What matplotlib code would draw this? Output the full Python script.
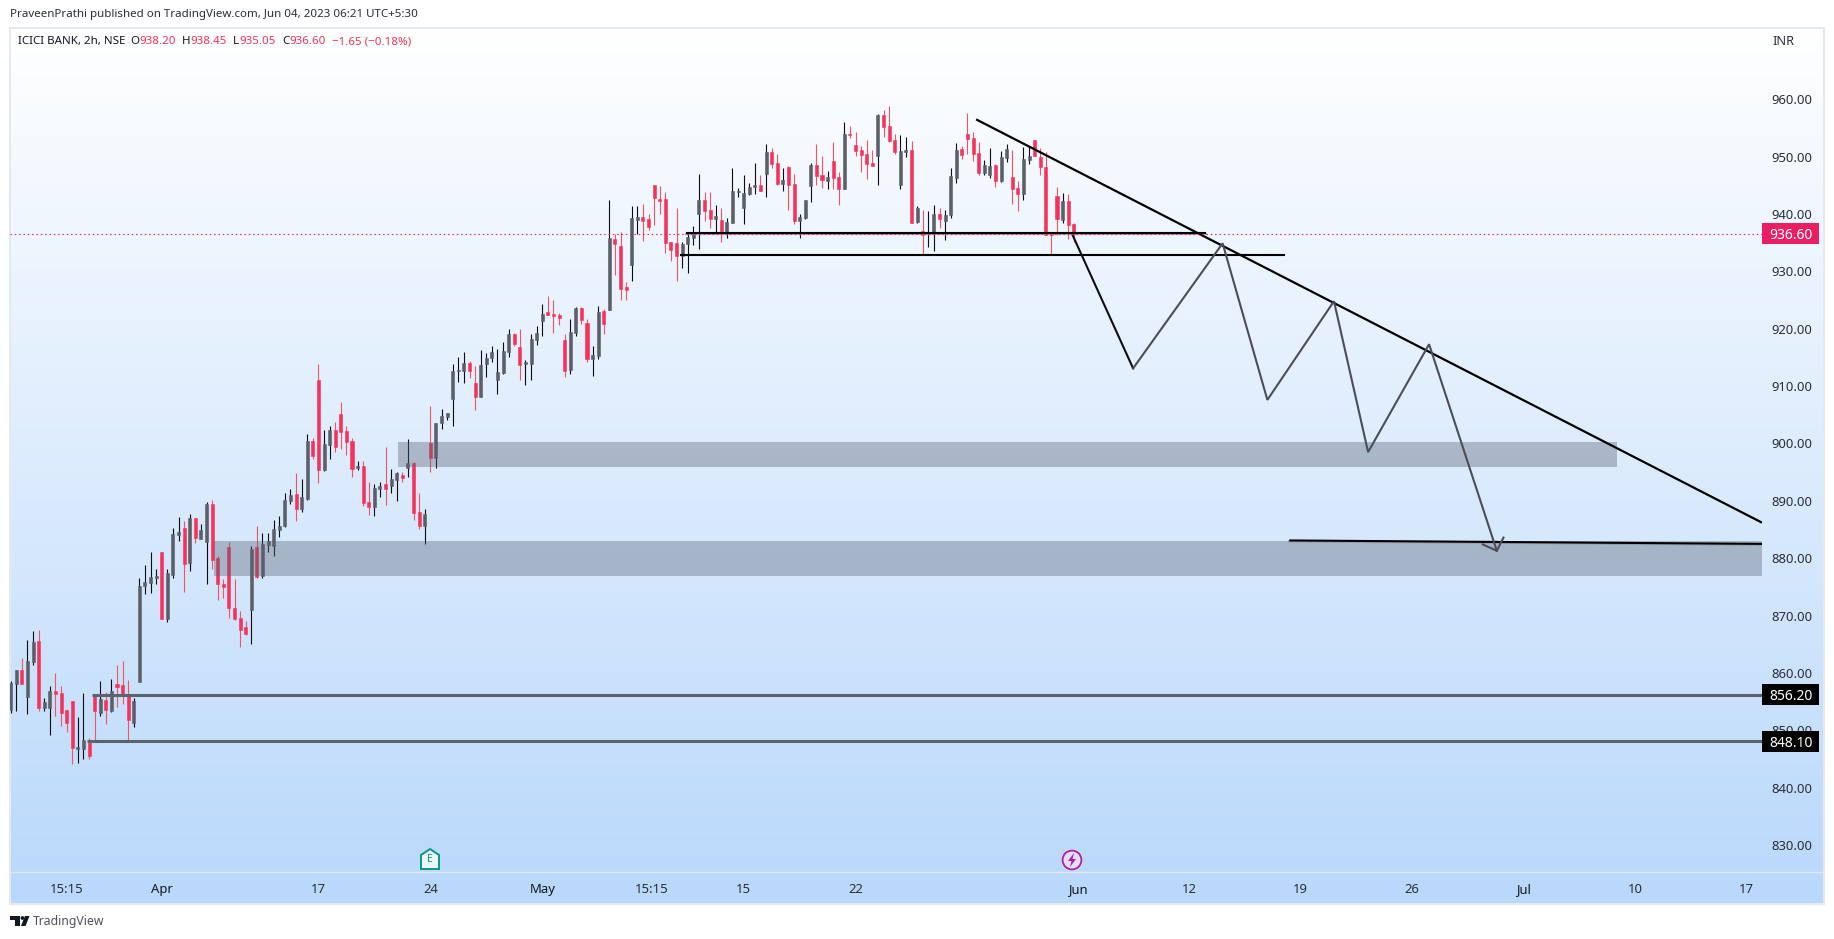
#!/usr/bin/env python
# ICICI BANK 2h candles with hand drawn trend lines, TradingView style
import numpy as np
import matplotlib
matplotlib.use('Agg')
import matplotlib.pyplot as plt
from matplotlib.colors import LinearSegmentedColormap
from matplotlib.patches import Rectangle, Polygon, Circle
from matplotlib.transforms import Affine2D, blended_transform_factory

W, H = 1834, 939

# candles
opens = [853.5,858.1,860.5,855.8,861.9,865.6,853.9,853.9,856.9,856.5,
         853.5,855.1,846.8,846.8,848.3,856.0,853.0,855.3,853.4,858.1,
         857.9,856.3,851.3,858.4,875.2,875.7,876.6,881.1,869.4,877.1,
         884.1,885.3,879.2,887.0,883.4,882.8,889.5,880.0,875.5,882.0,
         871.3,869.6,868.0,871.0,882.0,876.9,882.3,882.1,884.9,885.6,
         890.0,891.2,888.6,890.3,900.4,911.1,895.4,899.7,902.4,905.1,
         902.2,900.4,895.7,896.1,889.8,888.9,892.1,892.9,892.6,893.6,
         894.5,895.7,896.6,888.1,885.6,900.1,897.5,903.6,904.6,907.8,
         912.6,912.6,914.0,910.5,908.1,913.9,914.9,911.1,912.3,915.9,
         919.1,916.8,913.9,913.9,918.0,921.4,922.9,922.6,922.4,918.0,
         912.8,919.3,923.6,921.0,914.7,915.3,923.1,923.3,935.7,934.4,
         927.3,931.1,939.0,939.5,939.1,945.1,942.6,942.6,935.1,935.0,
         932.7,934.8,935.8,940.0,942.4,940.7,939.1,938.9,936.7,938.4,
         943.8,941.0,943.5,944.7,945.1,947.0,950.8,948.9,945.2,948.2,
         945.2,938.8,939.3,944.9,948.5,946.8,945.8,949.2,946.5,944.4,
         953.9,952.0,951.2,950.5,948.9,950.1,957.3,955.3,952.9,945.1,
         950.8,951.2,938.6,937.0,936.5,936.5,940.0,938.8,939.8,946.3,
         951.3,953.9,953.2,950.6,947.2,946.8,948.5,945.8,949.8,946.5,
         944.5,943.5,949.4,952.9,949.9,948.2,936.5,943.2,939.0,942.3,
         938.20]
highs = [858.6,860.6,862.6,865.7,867.3,867.5,855.6,857.7,860.0,857.7,
         853.5,855.1,852.3,856.5,848.7,856.0,858.6,856.7,858.9,861.4,
         862.1,858.8,855.6,876.6,878.8,881.1,878.1,881.1,878.1,885.3,
         887.2,886.5,887.7,887.0,886.0,889.8,890.2,880.4,876.4,882.8,
         876.4,870.8,869.1,882.1,885.6,884.4,884.4,886.7,887.4,891.4,
         892.1,894.9,893.8,901.7,901.0,913.9,902.4,903.1,903.8,907.2,
         903.1,901.0,897.0,897.0,893.3,892.9,893.3,899.4,895.6,895.0,
         895.0,900.8,896.8,891.4,888.6,906.5,903.6,906.0,905.3,913.9,
         915.1,915.9,914.4,913.5,916.3,915.8,917.0,916.5,917.7,920.0,
         919.3,920.0,914.6,919.1,920.5,924.3,925.7,925.0,922.7,919.1,
         921.7,923.8,923.8,921.7,917.0,924.0,923.4,942.5,936.5,936.9,
         928.2,941.4,941.4,941.8,940.0,945.1,944.9,943.8,935.1,941.1,
         935.1,936.9,937.9,947.0,943.8,943.8,941.6,941.0,939.3,948.0,
         944.5,946.8,945.4,948.9,946.8,952.2,951.5,950.5,948.0,948.4,
         947.0,940.0,942.4,948.9,952.2,950.1,947.5,952.6,947.3,956.0,
         955.3,954.3,951.9,952.9,951.2,957.4,958.1,958.8,953.9,953.8,
         953.4,952.7,941.4,940.7,940.5,941.6,941.0,940.7,948.0,952.4,
         951.9,957.6,954.3,952.6,949.4,951.5,948.7,951.0,952.2,951.2,
         945.8,951.7,951.7,952.9,951.5,950.8,936.5,944.7,943.7,943.5,
         938.45]
lows = [853.0,853.4,858.1,852.9,861.4,853.4,853.4,849.2,852.5,850.8,
        849.7,844.1,844.3,845.0,845.0,848.3,852.5,851.1,853.2,854.1,
        854.6,848.1,850.6,858.4,873.8,873.9,875.5,869.4,868.9,876.6,
        883.0,874.1,877.8,882.7,883.4,875.5,878.1,872.7,873.1,869.6,
        869.2,864.5,866.6,865.0,876.6,876.6,881.1,880.4,883.7,885.4,
        889.5,886.5,888.1,890.2,897.3,893.1,895.2,897.3,898.5,899.0,
        898.0,894.2,895.4,889.1,887.5,887.4,890.7,889.3,891.4,890.0,
        893.3,894.2,886.7,885.1,882.5,895.0,895.7,902.5,904.1,903.1,
        910.7,910.5,911.4,905.8,908.1,911.6,914.2,908.6,912.1,915.1,
        917.0,911.1,910.2,911.1,917.2,918.7,922.4,919.3,920.7,911.6,
        912.1,918.7,920.8,914.2,911.8,914.7,919.1,923.3,929.4,925.0,
        925.0,928.3,936.5,935.3,937.2,938.1,940.0,933.2,931.8,928.3,
        930.6,929.7,934.6,933.9,938.8,937.6,936.9,935.1,935.8,938.4,
        943.0,938.3,943.3,943.5,944.0,943.0,948.0,945.1,944.0,940.7,
        938.3,935.8,939.1,942.1,945.1,944.5,944.4,944.4,941.6,944.4,
        953.3,950.1,947.3,946.1,948.4,945.1,953.4,952.6,950.5,944.4,
        949.9,938.4,938.4,932.9,934.2,933.6,937.6,935.5,939.3,945.4,
        949.6,950.5,949.2,946.8,946.8,946.3,944.7,945.6,949.1,941.7,
        940.5,942.4,948.7,950.1,946.8,936.3,932.9,936.3,938.4,935.6,
        935.05]
closes = [858.2,860.5,858.1,862.1,865.4,853.9,854.9,856.9,856.3,853.0,
          851.3,846.9,847.1,848.3,845.5,853.4,855.5,853.5,856.9,857.6,
          856.3,851.8,855.1,875.2,875.9,876.7,876.9,869.4,877.4,884.2,
          884.6,879.0,887.0,883.5,884.9,889.5,879.7,875.5,875.0,871.3,
          869.4,867.5,866.8,881.6,876.7,882.5,883.0,885.1,885.6,890.2,
          891.0,888.6,890.7,900.4,897.8,895.4,899.9,902.4,899.4,902.0,
          900.3,895.6,896.1,889.6,888.9,892.2,892.6,892.1,893.8,894.9,
          894.0,896.6,887.9,885.6,887.7,897.5,903.6,904.8,905.3,912.6,
          912.8,914.0,912.6,908.1,913.7,914.9,915.9,912.5,916.1,919.1,
          917.3,913.7,914.2,918.2,919.3,922.6,922.4,922.2,921.9,912.6,
          919.4,923.6,921.5,914.7,915.4,922.9,920.8,935.8,934.8,926.9,
          926.8,939.3,939.5,938.8,937.7,942.8,942.3,935.0,933.7,932.7,
          934.8,936.0,936.5,942.4,940.5,939.1,939.7,937.0,938.6,944.0,
          944.0,943.7,944.7,945.1,944.0,950.8,948.7,945.2,945.9,945.1,
          938.8,939.5,942.4,948.5,946.6,945.9,946.5,946.3,944.4,953.9,
          953.8,951.0,950.3,948.7,948.4,957.3,955.2,952.7,950.8,951.0,
          951.2,938.4,941.0,936.3,936.7,940.0,939.1,939.8,946.6,951.2,
          950.3,953.1,950.5,947.2,948.5,948.4,945.8,949.9,951.3,944.4,
          943.5,949.6,950.1,950.1,948.2,936.3,936.3,939.1,942.3,938.1,
          936.60]

# axis labels
price_ticks = [830,840,850,860,870,880,890,900,910,920,930,940,950,960]
time_ticks = [10,27,55,75,95,114.5,131,151,190.8,210.6,230.4,250.5,270.4,290.4,310.2]
time_labels = ['15:15','Apr','17','24','May','15:15','15','22','Jun','12','19','26','Jul','10','17']
bold_labels = ['Apr','May','Jun','Jul']

# drawings on the chart, x in bars, y in price
trend_x = [172.55,313.0]
trend_y = [956.5,886.2]
top_x = [120.7,213.7]
top_y = [936.7,936.7]
neck_x = [119.6,227.7]
neck_y = [932.9,932.9]
target_x = [228.5,313.0]
target_y = [883.1,882.5]
zig_x = [189.8,200.6,216.6,224.6,236.5,242.6,253.5,265.6]
zig_y = [936.3,913.1,934.9,907.6,924.8,898.5,917.3,881.3]
head_x = [263.1,265.6,266.8]
head_y = [882.4,881.3,883.6]
zones = [(69.2,287.0,895.9,900.3),(36.3,313.0,876.9,883.0)]
levels = [(14.5,856.2),(13.7,848.1)]
last_price = 936.60

RED = '#f6325a'
RED_WICK = '#f7525f'
DARK = '#5b5f67'
DARK_WICK = '#0c0c10'
LINE = '#5a6470'
INK = '#131722'
AXIS_TXT = '#2a2e39'

plt.rcParams['font.family'] = ['Noto Sans', 'DejaVu Sans']

fig = plt.figure(figsize=(W/100, H/100), dpi=100, facecolor='white')
# pixel coordinates of the screenshot, y down
px = Affine2D().scale(1/W, -1/H).translate(0, 1) + fig.transFigure

def box(left, top, right, bottom):
    return [left/W, 1-bottom/H, (right-left)/W, (bottom-top)/H]

# panel with the blue gradient
panel = fig.add_axes(box(10, 28, 1824, 904), zorder=-1)
grad = LinearSegmentedColormap.from_list('bg', ['#ffffff', '#b9d8fb'])
panel.imshow(np.linspace(0, 1, 256).reshape(-1, 1), aspect='auto', cmap=grad)
panel.set_xticks([])
panel.set_yticks([])
for s in panel.spines.values():
    s.set_color('#e4e9f1')
    s.set_linewidth(1.4)

# price pane
ax = fig.add_axes(box(10, 28, 1762, 872))
ax.patch.set_alpha(0)
ax.set_xlim(-0.125, 313.0)
ax.set_ylim(825.3, 972.43)
for s in ax.spines.values():
    s.set_visible(False)
ax.yaxis.tick_right()
ax.set_yticks(price_ticks)
ax.set_yticklabels(['%.2f' % p for p in price_ticks], fontsize=9.4, color=AXIS_TXT)
ax.tick_params(axis='y', length=0, pad=6.6)
ax.set_xticks(time_ticks)
ax.set_xticklabels(time_labels, fontsize=9.4, color=AXIS_TXT)
ax.tick_params(axis='x', length=0, pad=7.6)
for t in ax.get_xticklabels():
    if t.get_text() in bold_labels:
        t.set_fontweight('bold')
        t.set_color(INK)

# candles
x = np.arange(len(opens))
o = np.array(opens)
c = np.array(closes)
up = c >= o
ax.vlines(x, lows, highs, colors=[DARK_WICK if u else RED_WICK for u in up], lw=0.8, zorder=2)
ax.bar(x, np.abs(c-o), bottom=np.minimum(o, c), width=0.54,
       color=[DARK if u else RED for u in up],
       edgecolor=[DARK if u else RED for u in up], linewidth=0.4, zorder=3)

# zones go over the candles
for left, right, lo, hi in zones:
    ax.add_patch(Rectangle((left, lo), right-left, hi-lo, facecolor='#5a6272',
                           edgecolor='none', alpha=0.38, zorder=4))

# levels
for start, price in levels:
    ax.plot([start, 313.0], [price, price], color=LINE, lw=2.2, zorder=5, solid_capstyle='butt')

ax.plot(top_x, np.array(top_y)-0.25, color='#8a8f98', lw=1.6, zorder=5, alpha=0.7)
ax.plot(top_x, top_y, color='black', lw=1.5, zorder=5, solid_capstyle='butt')
ax.plot(neck_x, neck_y, color='black', lw=1.5, zorder=5, solid_capstyle='butt')
ax.plot(target_x, np.array(target_y)-0.15, color='#8a8f98', lw=1.6, zorder=5, alpha=0.7)
ax.plot(target_x, target_y, color='black', lw=1.5, zorder=5, solid_capstyle='butt')
ax.plot(trend_x, trend_y, color='black', lw=1.6, zorder=6, solid_capstyle='butt')

ax.plot(zig_x[:2], zig_y[:2], color='#0e0e12', lw=1.5, zorder=6, solid_joinstyle='miter')
ax.plot(zig_x[1:], zig_y[1:], color='#4b4e58', lw=1.5, zorder=6, solid_joinstyle='miter')
ax.plot(head_x, head_y, color='#4b4e58', lw=1.5, zorder=6)

# last price line
ax.axhline(last_price, color='#e91e63', lw=0.8, ls=(0, (1.3, 2.6)), zorder=7)

# price labels on the axis
trans = blended_transform_factory(ax.transAxes, ax.transData)
for price, col in [(856.20, 'black'), (848.10, 'black'), (last_price, '#e91e63')]:
    ax.add_patch(Rectangle((1.0, price-1.83), 57/1752, 3.66, transform=trans, facecolor=col,
                           edgecolor='none', clip_on=False, zorder=8))
    ax.text(1.0+29/1752, price, '%.2f' % price, transform=trans, color='white', fontsize=10,
            fontweight='semibold', ha='center', va='center_baseline', zorder=9, clip_on=False)

# header
fig.text(10/W, 1-14.7/H, 'PraveenPrathi published on TradingView.com, Jun 04, 2023 06:21 UTC+5:30',
         fontsize=8.3, color=AXIS_TXT, va='center')
legend = [(18, 'ICICI BANK, 2h, NSE', INK), (130.5, 'O', INK), (139, '938.20', RED),
          (181.5, 'H', INK), (190, '938.45', RED), (232.5, 'L', INK), (239, '935.05', RED),
          (282, 'C', INK), (289.5, '936.60', RED), (332.5, '\u22121.65 (\u22120.18%)', RED)]
for left, txt, col in legend:
    fig.text(left/W, 1-41.7/H, txt, fontsize=8.3, color=col, va='center')
fig.text(1772/W, 1-41.5/H, 'INR', fontsize=9.2, color=AXIS_TXT, va='center')

# separator above the time scale
fig.add_artist(plt.Line2D([10, 1824], [872, 872], transform=px, color='#e0e7f1', lw=1))

# earnings marker
fig.add_artist(Polygon([(421, 869), (421, 855), (430, 849), (439, 855), (439, 869)], closed=True,
                       transform=px, facecolor='#ecf6f8', edgecolor='#089981', lw=1.4, zorder=6))
fig.text(430/W, 1-860/H, 'E', fontsize=7.5, color='#089981', ha='center', va='center', zorder=7)

# bolt marker
fig.add_artist(Circle((1072, 860), 11, transform=px, facecolor='white', edgecolor='none', zorder=6))
fig.add_artist(Circle((1072, 860), 9.5, transform=px, facecolor='#e9dcf6', edgecolor='#9c27b0', lw=1.4, zorder=6))
fig.add_artist(Polygon([(1074, 853), (1068, 861), (1071.5, 861), (1070, 867), (1076, 859), (1072.5, 859)],
                       closed=True, transform=px, facecolor='#9c27b0', edgecolor='none', zorder=7))

# logo and footer
fig.add_artist(Polygon([(10, 916), (20, 916), (20, 926), (15, 926), (15, 920), (10, 920)], closed=True,
                       transform=px, facecolor='#131722', edgecolor='none'))
fig.add_artist(Circle((22.5, 918), 1.9, transform=px, facecolor='#131722', edgecolor='none'))
fig.add_artist(Polygon([(25, 916), (29.5, 916), (25.5, 926), (21, 926)], closed=True,
                       transform=px, facecolor='#131722', edgecolor='none'))
fig.text(33/W, 1-921/H, 'TradingView', fontsize=8.8, color='#50535e', va='center')

fig.savefig('out.png', dpi=100)
